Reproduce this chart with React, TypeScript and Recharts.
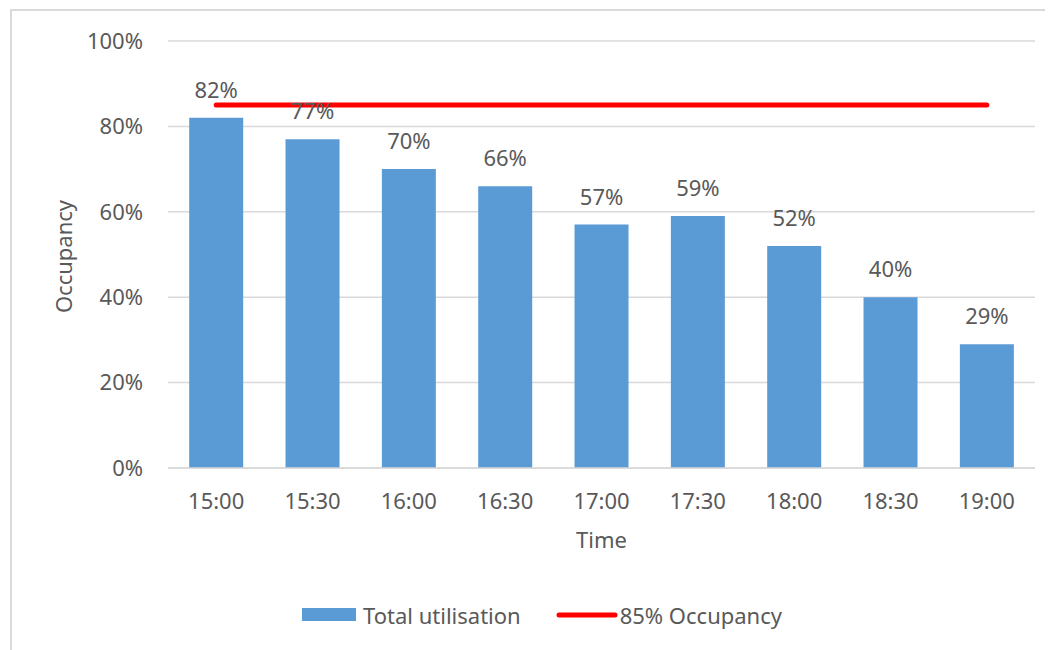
import {
  Bar,
  CartesianGrid,
  ComposedChart,
  LabelList,
  Legend,
  Line,
  XAxis,
  YAxis,
} from "recharts";

const times = ["15:00", "15:30", "16:00", "16:30", "17:00", "17:30", "18:00", "18:30", "19:00"];
const utilisation = [0.82, 0.77, 0.7, 0.66, 0.57, 0.59, 0.52, 0.4, 0.29];
const targetOccupancy = 0.85;
const yTicks = [0, 0.2, 0.4, 0.6, 0.8, 1];

const FONT = "'Noto Sans', sans-serif";
const TEXT = "#595959";
const BLUE = "#5B9BD5";
const RED = "#FF0000";
const GRID = "#D9D9D9";

// space below the plot = margin + x axis band + legend box
const X_AXIS_H = 30;
const LEGEND_H = 31;

const data = times.map((time, i) => ({
  time,
  utilisation: utilisation[i],
  target: targetOccupancy,
}));

const pct = (v: number) => `${Math.round(v * 100)}%`;

// Excel-style legend: a block for the bars, a thick stroke for the line
function ChartLegend({ payload }: { payload?: any[] }) {
  const items = [...(payload ?? [])].sort(
    (a, b) => (a.type === "line" ? 1 : 0) - (b.type === "line" ? 1 : 0)
  );
  return (
    <div
      style={{
        display: "flex",
        alignItems: "center",
        height: LEGEND_H,
        fontFamily: FONT,
        fontSize: 22,
        color: TEXT,
      }}
    >
      {items.map((entry, i) => (
        <div key={entry.value} style={{ display: "flex", alignItems: "center", marginLeft: i === 0 ? 0 : 35 }}>
          {entry.type === "line" ? (
            <svg width={62} height={10} style={{ marginRight: 2 }}>
              <line x1={3} y1={5} x2={59} y2={5} stroke={RED} strokeWidth={5} strokeLinecap="round" />
            </svg>
          ) : (
            <svg width={54} height={13} style={{ marginRight: 7 }}>
              <rect width={54} height={13} fill={BLUE} />
            </svg>
          )}
          <span>{entry.value}</span>
        </div>
      ))}
    </div>
  );
}

export default function App() {
  return (
    <div style={{ position: "relative", width: 1045, height: 642, overflow: "hidden", background: "#fff" }}>
      <div
        style={{
          position: "absolute",
          left: 2,
          top: 1,
          width: 1200,
          height: 800,
          border: `2px solid ${GRID}`,
        }}
      />
      <div style={{ position: "absolute", left: 0, top: 0 }}>
        <ComposedChart
          width={1045}
          height={642}
          data={data}
          margin={{ top: 33, right: 18, bottom: 182 - X_AXIS_H - LEGEND_H, left: 0 }}
          barCategoryGap="22%"
        >
          <CartesianGrid vertical={false} stroke={GRID} strokeWidth={1.5} />
          <XAxis
            dataKey="time"
            height={X_AXIS_H}
            tickLine={false}
            tickSize={0}
            tickMargin={25}
            axisLine={{ stroke: GRID, strokeWidth: 1.5 }}
            tick={{ fill: TEXT, fontSize: 22, fontFamily: FONT }}
            interval={0}
            label={{
              content: ({ viewBox }: any) => (
                <text
                  x={viewBox.x + viewBox.width / 2}
                  y={viewBox.y + 80}
                  textAnchor="middle"
                  fill={TEXT}
                  fontSize={22}
                  fontFamily={FONT}
                >
                  Time
                </text>
              ),
            }}
          />
          <YAxis
            width={160}
            domain={[0, 1]}
            ticks={yTicks}
            tickFormatter={pct}
            tickLine={false}
            tickSize={0}
            tickMargin={25}
            axisLine={false}
            tick={{ fill: TEXT, fontSize: 22, fontFamily: FONT }}
            label={{
              content: ({ viewBox }: any) => {
                const cx = 64;
                const cy = viewBox.y + viewBox.height / 2 + 2;
                return (
                  <text
                    x={cx}
                    y={cy}
                    transform={`rotate(-90, ${cx}, ${cy})`}
                    textAnchor="middle"
                    fill={TEXT}
                    fontSize={22}
                    fontFamily={FONT}
                  >
                    Occupancy
                  </text>
                );
              },
            }}
          />
          <Legend
            layout="horizontal"
            verticalAlign="bottom"
            align="center"
            content={<ChartLegend />}
            wrapperStyle={{ left: 294, top: 591, bottom: "auto", width: "auto", height: LEGEND_H }}
          />
          <Bar dataKey="utilisation" name="Total utilisation" fill={BLUE} isAnimationActive={false}>
            <LabelList
              dataKey="utilisation"
              position="top"
              offset={20}
              formatter={(v: any) => pct(Number(v))}
              fill={TEXT}
              fontSize={22}
              fontFamily={FONT}
            />
          </Bar>
          <Line
            dataKey="target"
            name="85% Occupancy"
            type="linear"
            stroke={RED}
            strokeWidth={5}
            strokeLinecap="round"
            dot={false}
            activeDot={false}
            legendType="line"
            isAnimationActive={false}
          />
        </ComposedChart>
      </div>
    </div>
  );
}
